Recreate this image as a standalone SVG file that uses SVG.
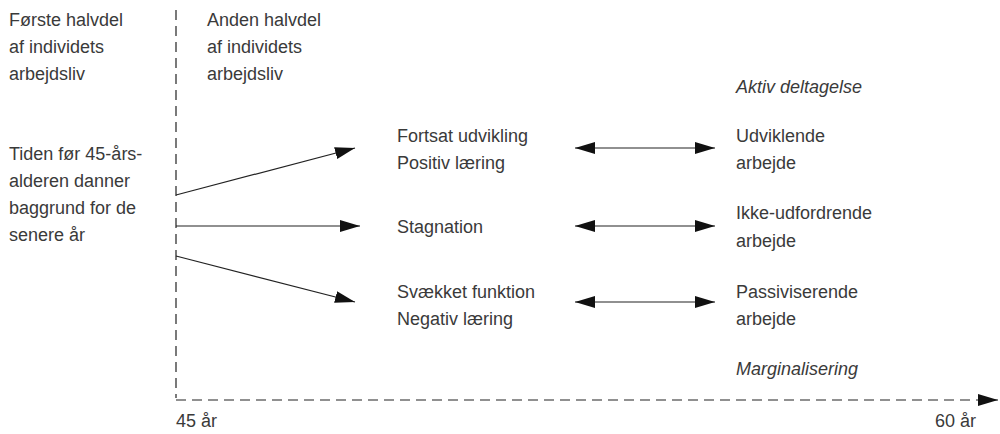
<svg xmlns="http://www.w3.org/2000/svg" width="1000" height="434" viewBox="0 0 1000 434">
<style>
text{font-family:"Liberation Sans",Arial,sans-serif;font-size:18px;fill:#3a3a3a}
.it{font-style:italic}
.ln{stroke:#222;stroke-width:1.2;fill:none}
.dash{stroke:#222;stroke-width:1.2;fill:none;stroke-dasharray:10,6}
</style>
<defs>
<marker id="ah" viewBox="0 0 20 12" refX="20" refY="6" markerWidth="20" markerHeight="12" markerUnits="userSpaceOnUse" orient="auto-start-reverse">
<path d="M0,0 L20,6 L0,12 Z" fill="#111"/>
</marker>
</defs>
<rect width="1000" height="434" fill="#fff"/>
<g id="axes">
<line class="dash" x1="176" y1="10" x2="176" y2="398" stroke-dasharray="9,6"/>
<line class="dash" x1="176" y1="400" x2="998" y2="400" marker-end="url(#ah)"/>
</g>
<g id="connectors">
<line class="ln" x1="176" y1="195" x2="355" y2="148" marker-end="url(#ah)"/>
<line class="ln" x1="176" y1="226" x2="360" y2="226" marker-end="url(#ah)"/>
<line class="ln" x1="176" y1="256" x2="355" y2="302" marker-end="url(#ah)"/>
<line class="ln" x1="575" y1="148" x2="715" y2="148" marker-start="url(#ah)" marker-end="url(#ah)"/>
<line class="ln" x1="575" y1="226" x2="715" y2="226" marker-start="url(#ah)" marker-end="url(#ah)"/>
<line class="ln" x1="575" y1="302" x2="715" y2="302" marker-start="url(#ah)" marker-end="url(#ah)"/>
</g>
<g id="first-half">
<text x="9" y="26">Første halvdel</text>
<text x="9" y="53">af individets</text>
<text x="9" y="80">arbejdsliv</text>
</g>
<g id="second-half">
<text x="207" y="26">Anden halvdel</text>
<text x="207" y="53">af individets</text>
<text x="207" y="80">arbejdsliv</text>
</g>
<g id="before45">
<text x="9" y="160">Tiden før 45-års-</text>
<text x="9" y="187">alderen danner</text>
<text x="9" y="214">baggrund for de</text>
<text x="9" y="241">senere år</text>
</g>
<g id="fortsat">
<text x="397" y="142">Fortsat udvikling</text>
<text x="397" y="169">Positiv læring</text>
</g>
<g id="stagnation">
<text x="397" y="233">Stagnation</text>
</g>
<g id="svaekket">
<text x="397" y="298">Svækket funktion</text>
<text x="397" y="325">Negativ læring</text>
</g>
<g id="aktiv">
<text class="it" x="736" y="93">Aktiv deltagelse</text>
</g>
<g id="udviklende">
<text x="736" y="142">Udviklende</text>
<text x="736" y="169">arbejde</text>
</g>
<g id="ikke">
<text x="736" y="219">Ikke-udfordrende</text>
<text x="736" y="247">arbejde</text>
</g>
<g id="passiv">
<text x="736" y="298">Passiviserende</text>
<text x="736" y="325">arbejde</text>
</g>
<g id="marginal">
<text class="it" x="736" y="375">Marginalisering</text>
</g>
<g id="labels">
<text x="176" y="427">45 år</text>
<text x="935" y="427">60 år</text>
</g>
</svg>
